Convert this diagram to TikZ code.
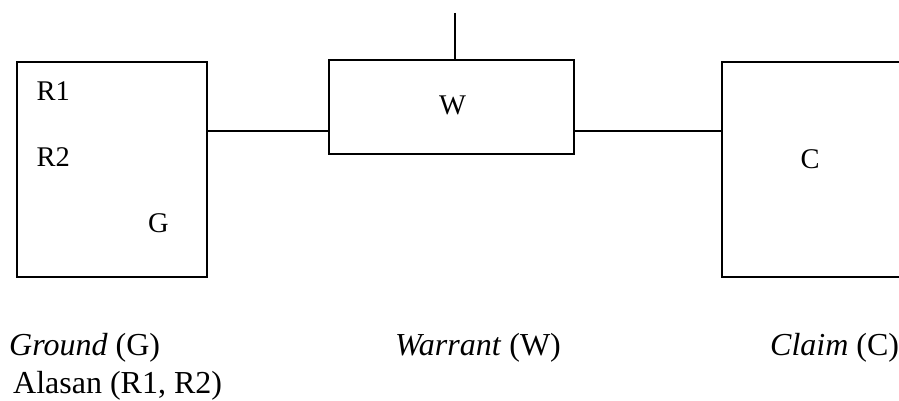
\documentclass[tikz,border=0pt]{standalone}
\usepackage{fontspec}
\setmainfont{Liberation Serif}
\begin{document}
\begin{tikzpicture}[x=1pt,y=-1pt,
  box/.style={draw,line width=1.3pt,minimum width=#1,inner sep=0pt},
  lbl/.style={anchor=base west,inner sep=0pt,font=\fontsize{28.5}{30}\selectfont},
  captxt/.style={anchor=base west,inner sep=0pt,font=\fontsize{32}{34}\selectfont},
  conn/.style={line width=1.3pt}]
\useasboundingbox (0,0) rectangle (899,401);
\clip (0,0) rectangle (899,401);
% boxes
\node[box=190pt,minimum height=215pt] (G) at (112,169.5) {};
\node[box=245pt,minimum height=94pt] (W) at (451.5,107) {};
\node[box=190pt,minimum height=215pt] (C) at (817,169.5) {};
% texts in boxes
\node[lbl] (r1) at (36.5,100.5) {R1};
\node[lbl] (r2) at (36.5,166) {R2};
\node[lbl] (g) at (148,232) {G};
\node[lbl] (w) at (439,115) {W};
\node[lbl] (c) at (800.5,168) {C};
% captions
\node[captxt] (capG) at (9,355) {\textit{Ground} (G)};
\node[captxt] (capA) at (13,393) {Alasan (R1, R2)};
\node[captxt] (capW) at (395,355) {\textit{Warrant} (W)};
\node[captxt] (capC) at (770,355) {\textit{Claim} (C)};
% connectors
\coordinate (yl) at (0,131);
\coordinate (top) at (455,13);
\draw[conn] (G.east |- yl) -- (W.west |- yl);
\draw[conn] (W.east |- yl) -- (C.west |- yl);
\draw[conn] (top) -- (top |- W.north);
\end{tikzpicture}
\end{document}
